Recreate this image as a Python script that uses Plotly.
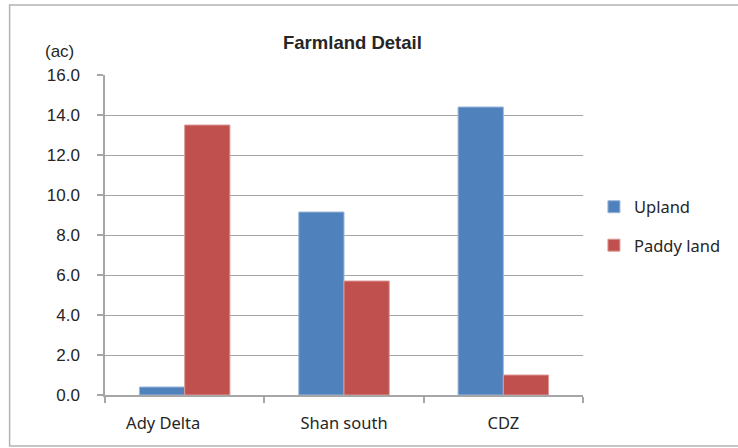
import plotly.graph_objects as go

# Farmland area by region (acres)
regions = ["Ady Delta" + "\u00a0" * 10, "Shan south", "CDZ"]
upland = [0.4, 9.15, 14.4]
paddy_land = [13.5, 5.7, 1.0]
y_ticks = [0, 2, 4, 6, 8, 10, 12, 14, 16]
y_tick_text = [f"{v:.1f}" for v in y_ticks]

W, H = 738, 448
ML, MR, MT, MB = 105, 152, 75, 53
PW, PH = W - ML - MR, H - MT - MB


def px_x(x):
    return (x - ML) / PW


def px_y(y):
    return (H - MB - y) / PH


grid = "#a6a6a6"
text_col = "#262626"

fig = go.Figure()
fig.add_bar(
    x=regions, y=upland, name="Upland", legendgroup="a",
    marker=dict(color="#4F81BD", line=dict(color="#9db7da", width=1)),
)
fig.add_bar(
    x=regions, y=paddy_land, name="Paddy land", legendgroup="b",
    marker=dict(color="#C0504D", line=dict(color="#dc9a98", width=1)),
)

fig.update_layout(
    width=W, height=H,
    margin=dict(l=ML, r=MR, t=MT, b=MB, pad=0),
    paper_bgcolor="white", plot_bgcolor="white",
    barmode="group", bargap=0.432, bargroupgap=0,
    font=dict(family="Liberation Sans", size=17, color=text_col),
    legend=dict(
        x=px_x(597), xanchor="left", y=px_y(226), yanchor="middle",
        font=dict(family="Noto Sans", size=16.5, color=text_col),
        tracegroupgap=14, itemwidth=30, bgcolor="rgba(0,0,0,0)",
    ),
    showlegend=True,
    annotations=[
        dict(text="<b>Farmland Detail</b>", xref="paper", yref="paper",
             x=px_x(354), y=px_y(43), xanchor="center", yanchor="middle",
             showarrow=False, font=dict(family="Liberation Sans", size=18.5, color=text_col)),
        dict(text="(ac)", xref="paper", yref="paper",
             x=px_x(59), y=px_y(51), xanchor="center", yanchor="middle",
             showarrow=False, font=dict(family="Liberation Sans", size=17, color=text_col)),
    ],
    shapes=[
        dict(type="rect", xref="paper", yref="paper",
             x0=px_x(9), x1=px_x(760), y0=px_y(446), y1=px_y(5),
             line=dict(color="#b3b3b3", width=1.5), fillcolor="rgba(0,0,0,0)", layer="below"),
    ],
)

fig.update_yaxes(
    range=[0, 16], tickvals=y_ticks, ticktext=y_tick_text,
    showgrid=True, gridcolor=grid, gridwidth=1,
    showline=True, linecolor=grid, linewidth=1.5,
    ticks="outside", ticklen=6, tickcolor=grid, tickwidth=1.5,
    ticklabelstandoff=14, zeroline=False,
    tickfont=dict(family="Liberation Sans", size=17, color=text_col),
)
fig.update_xaxes(
    showline=True, linecolor=grid, linewidth=1.5,
    ticks="outside", ticklen=6, tickcolor=grid, tickwidth=1.5,
    tickson="boundaries", ticklabelstandoff=12,
    tickfont=dict(family="Noto Sans", size=16.5, color=text_col),
)

fig.write_html("out.html")
